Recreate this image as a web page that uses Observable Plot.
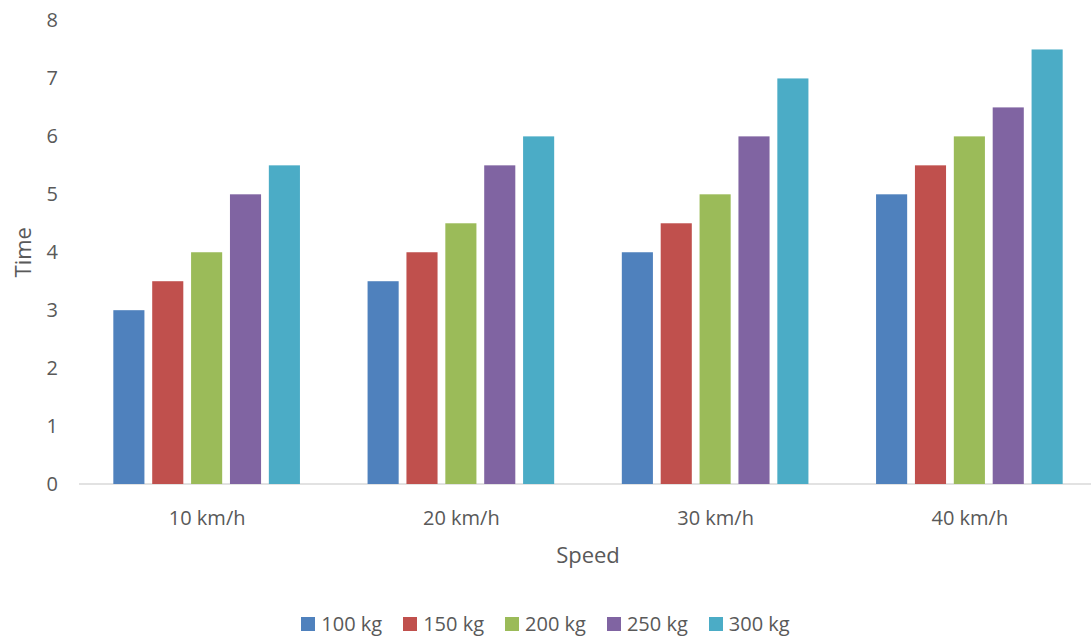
<!DOCTYPE html>
<html><head><meta charset="utf-8">
<script src="https://cdn.jsdelivr.net/npm/d3@7"></script>
<script src="https://cdn.jsdelivr.net/npm/@observablehq/plot@0.6"></script>
<style>
html,body{margin:0;padding:0;background:#fff;overflow:hidden;width:1091px;height:639px}
#chart{width:1091px;overflow:hidden}
#chart svg{max-width:none !important;display:block}
#legend{display:flex;justify-content:center;gap:21px;font:20px "Open Sans",sans-serif;color:#595959;width:1091px;line-height:28px;padding-top:10px}
#legend .item{display:flex;align-items:center}
#legend .sw{width:14px;height:14px;margin-right:6px;display:inline-block}
</style></head><body>
<div id="chart"></div><div id="legend"></div>
<script>
const speeds = ["10 km/h", "20 km/h", "30 km/h", "40 km/h"];
const weights = ["100 kg", "150 kg", "200 kg", "250 kg", "300 kg"];
const time100 = [3, 3.5, 4, 5];
const time150 = [3.5, 4, 4.5, 5.5];
const time200 = [4, 4.5, 5, 6];
const time250 = [5, 5.5, 6, 6.5];
const time300 = [5.5, 6, 7, 7.5];
const colors = ["#4F81BD", "#C0504D", "#9BBB59", "#8064A2", "#4BACC6"];
const yTicks = [0, 1, 2, 3, 4, 5, 6, 7, 8];
const xTitle = "Speed", yTitle = "Time";

const series = [time100, time150, time200, time250, time300];
const data = [];
speeds.forEach((s, i) => weights.forEach((w, j) => data.push({speed: s, weight: w, time: series[j][i]})));

const plot = Plot.plot({
  width: 1097, height: 600,
  marginTop: 20.5, marginBottom: 116, marginLeft: 79, marginRight: 0,
  style: {fontFamily: '"Open Sans", sans-serif', fontSize: "20px", color: "#595959", background: "#fff", maxWidth: "none"},
  facet: {data, x: "speed"},
  fx: {domain: speeds, paddingInner: 0.266, paddingOuter: 0.135, round: false, tickSize: 0, tickPadding: 26, label: null, axis: "bottom"},
  x: {domain: weights, paddingInner: 0.2, paddingOuter: 0, round: false, axis: null},
  y: {domain: [0, 8], ticks: yTicks, tickSize: 0, tickPadding: 56, label: null},
  color: {domain: weights, range: colors},
  marks: [
    Plot.barY(data, {x: "weight", y: "time", fill: "weight"})
  ]
});
document.getElementById("chart").appendChild(plot);

// full-width baseline and axis titles, placed with the library's own scales
const ys = plot.scale("y"), fxs = plot.scale("fx");
const y0 = ys.apply(0);
const svg = d3.select(plot);
svg.insert("line", ":first-child")
  .attr("x1", fxs.range[0]).attr("x2", fxs.range[1])
  .attr("y1", y0).attr("y2", y0)
  .attr("stroke", "#D9D9D9").attr("stroke-width", 1.5);
const yMid = (ys.range[0] + ys.range[1]) / 2;
svg.append("text").text(yTitle)
  .attr("transform", `translate(23,${yMid}) rotate(-90)`)
  .attr("text-anchor", "middle").attr("dy", "0.36em")
  .attr("fill", "#595959").style("font-size", "22px");
svg.append("text").text(xTitle)
  .attr("x", (fxs.range[0] + fxs.range[1]) / 2).attr("y", 555)
  .attr("text-anchor", "middle").attr("dy", "0.36em")
  .attr("fill", "#595959").style("font-size", "22px");

const legend = d3.select("#legend");
weights.forEach((w, j) => {
  const it = legend.append("div").attr("class", "item");
  it.append("span").attr("class", "sw").style("background", colors[j]);
  it.append("span").text(w);
});
</script>
</body></html>
